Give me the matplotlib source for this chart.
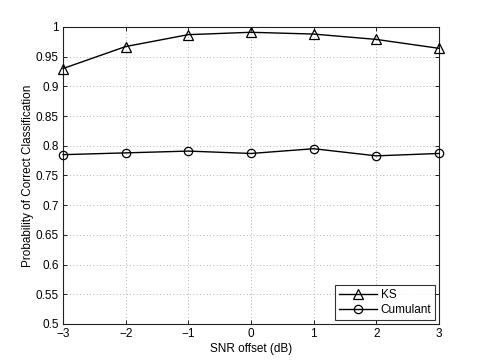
import matplotlib
matplotlib.use("Agg")
import matplotlib.pyplot as plt

plt.rcParams['font.family'] = ['Liberation Sans', 'DejaVu Sans']

snr = [-3, -2, -1, 0, 1, 2, 3]
ks = [0.930, 0.967, 0.987, 0.991, 0.988, 0.979, 0.964]
cumulant = [0.785, 0.788, 0.791, 0.787, 0.795, 0.783, 0.787]
yticks = [0.5, 0.55, 0.6, 0.65, 0.7, 0.75, 0.8, 0.85, 0.9, 0.95, 1]
ytick_labels = ['0.5', '0.55', '0.6', '0.65', '0.7', '0.75', '0.8', '0.85', '0.9', '0.95', '1']

fig = plt.figure(figsize=(4.85, 3.64), dpi=100)
ax = fig.add_axes([0.130, 0.110, 0.775, 0.816])
ax.plot(snr, ks, color='black', lw=1.0, marker='^', ms=6.5, mfc='none', mec='black', mew=0.9,
        label='KS', clip_on=False, zorder=3)
ax.plot(snr, cumulant, color='black', lw=1.0, marker='o', ms=6, mfc='none', mec='black', mew=0.9,
        label='Cumulant', clip_on=False, zorder=3)
ax.set_xlim(-3, 3)
ax.set_ylim(0.5, 1)
ax.set_xticks(snr)
ax.set_xticklabels(['\u22123', '\u22122', '\u22121', '0', '1', '2', '3'])
ax.set_yticks(yticks)
ax.set_yticklabels(ytick_labels)
ax.tick_params(direction='in', length=3, width=0.6, labelsize=8.5, top=True, right=True, pad=3)
ax.grid(True, linestyle=(0, (1, 3)), color='#999999', lw=0.6)
for s in ax.spines.values():
    s.set_linewidth(0.8)
    s.set_color('#222222')
ax.set_xlabel('SNR offset (dB)', fontsize=8.5, labelpad=2)
ax.set_ylabel('Probability of Correct Classification', fontsize=8.5, labelpad=1)
leg = ax.legend(loc='lower right', fontsize=8.5, frameon=True, fancybox=False, edgecolor='black',
                borderaxespad=0.3, handlelength=3.2, borderpad=0.35, labelspacing=0.25, handletextpad=0.3)
leg.get_frame().set_linewidth(0.8)
fig.savefig('out.png', dpi=100)
